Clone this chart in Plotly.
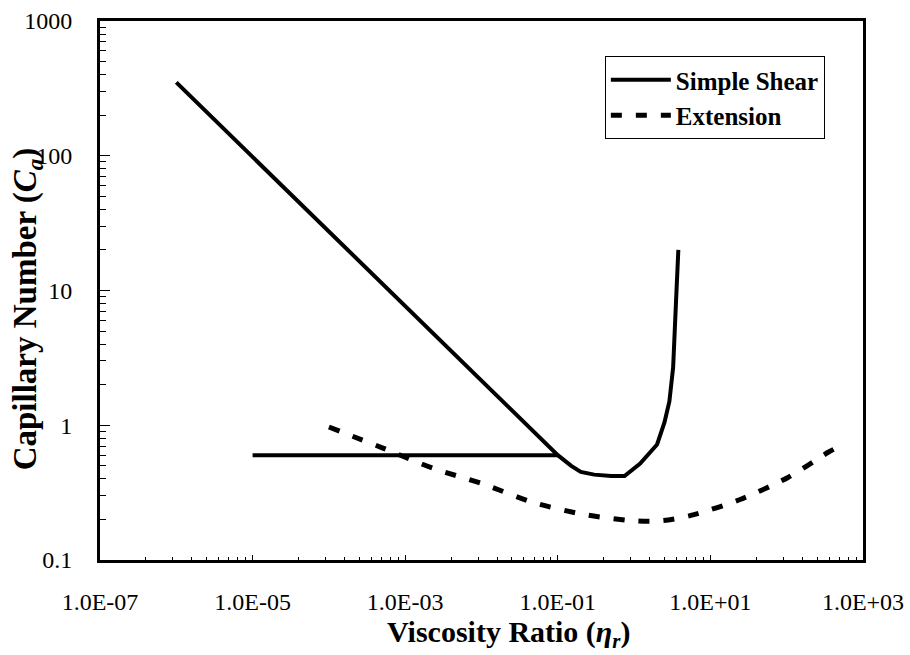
import plotly.graph_objects as go

# Simple shear: breakup plateau (left), then the critical curve
shear_plateau_x = [1e-5, 0.1]
shear_plateau_y = [0.6, 0.6]
shear_curve_x = [1e-6, 0.1, 0.15, 0.2, 0.3, 0.5, 0.75, 1.2, 2.0, 2.5, 2.9, 3.25, 3.55, 3.8]
shear_curve_y = [350, 0.6, 0.5, 0.45, 0.43, 0.42, 0.42, 0.52, 0.72, 1.05, 1.5, 2.7, 8.5, 20]

# Extensional flow critical capillary number
ext_x = [1e-4, 5e-4, 2.3e-3, 0.01, 0.05, 0.25, 1.1, 2.4, 5.7, 24, 104, 350, 500]
ext_y = [0.97, 0.68, 0.48, 0.37, 0.265, 0.215, 0.195, 0.196, 0.215, 0.28, 0.41, 0.63, 0.7]

x_major = [1e-7, 1e-5, 1e-3, 1e-1, 1e1, 1e3]
x_labels = ["1.0E-07", "1.0E-05", "1.0E-03", "1.0E-01", "1.0E+01", "1.0E+03"]
y_major = [0.1, 1, 10, 100, 1000]
y_labels = ["0.1", "1", "10", "100", "1000"]

# minor ticks: x-axis major unit spans two decades, so minors sit at k^2 multiples
x_minor = [m * k * k for m in x_major[:-1] for k in range(2, 10)]
y_minor = [m * k for m in y_major[:-1] for k in range(2, 10)]

SERIF = "Liberation Serif"
TITLE_FONT = dict(family=SERIF, size=30, color="black", weight="bold")

fig = go.Figure()
fig.add_trace(go.Scatter(
    x=shear_plateau_x + [None] + shear_curve_x,
    y=shear_plateau_y + [None] + shear_curve_y,
    mode="lines", name="Simple Shear",
    line=dict(color="black", width=4),
))
fig.add_trace(go.Scatter(
    x=ext_x, y=ext_y, mode="lines", name="Extension",
    line=dict(color="black", width=5, dash="11px,14px", shape="spline", smoothing=0.8),
))

fig.update_layout(
    width=910, height=655,
    margin=dict(l=100, r=47, t=21, b=95),
    paper_bgcolor="white", plot_bgcolor="white",
    font=dict(family=SERIF, color="black"),
    showlegend=True,
    legend=dict(
        x=0.95, y=0.935, xanchor="right", yanchor="top",
        bgcolor="white", bordercolor="black", borderwidth=1,
        font=dict(family=SERIF, size=25, color="black", weight="bold"),
        itemwidth=60, tracegroupgap=0,
    ),
    annotations=[
        dict(text="Capillary Number (<i>C<sub>a</sub></i>)",
             xref="paper", yref="paper", x=-0.095, y=0.466,
             xanchor="center", yanchor="middle", textangle=-90, showarrow=False,
             font=dict(TITLE_FONT, size=33)),
        dict(text="Viscosity Ratio (<i>η<sub>r</sub></i>)",
             xref="paper", yref="paper", x=0.536, y=-0.138,
             xanchor="center", yanchor="middle", showarrow=False,
             font=TITLE_FONT),
    ],
)

fig.update_xaxes(
    type="log", range=[-7, 3], automargin=False,
    tickmode="array", tickvals=x_major, ticktext=x_labels,
    ticks="inside", ticklen=5, tickwidth=1, tickcolor="black",
    minor=dict(tickmode="array", tickvals=x_minor, ticks="inside", ticklen=3,
               tickwidth=1, tickcolor="black", showgrid=False),
    showline=True, linecolor="black", linewidth=3, mirror=True,
    showgrid=False, zeroline=False,
    tickfont=dict(family=SERIF, size=24, color="black"),
    ticklabelstandoff=18,
)
fig.update_yaxes(
    type="log", range=[-1, 3], automargin=False,
    tickmode="array", tickvals=y_major, ticktext=y_labels,
    ticks="inside", ticklen=10, tickwidth=1, tickcolor="black",
    minor=dict(tickmode="array", tickvals=y_minor, ticks="inside", ticklen=6,
               tickwidth=1, tickcolor="black", showgrid=False),
    showline=True, linecolor="black", linewidth=3, mirror=True,
    showgrid=False, zeroline=False,
    tickfont=dict(family=SERIF, size=24, color="black"),
    ticklabelstandoff=20,
)

fig.write_html("out.html")
